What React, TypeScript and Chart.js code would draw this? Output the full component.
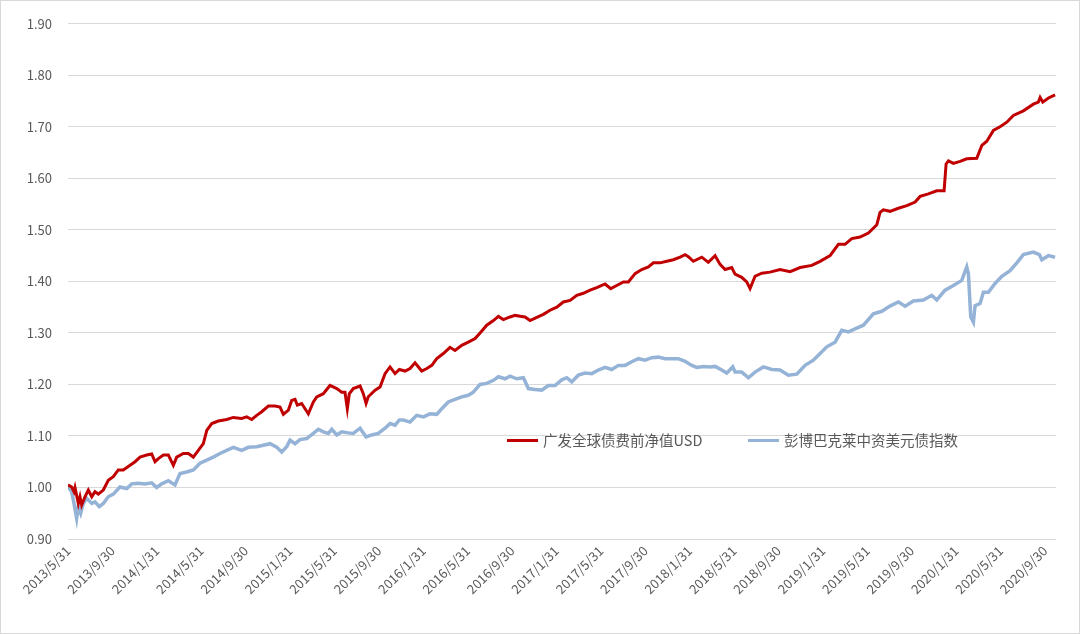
import React, { useEffect, useRef } from "react";
import { Chart, registerables } from "chart.js";

Chart.register(...registerables);

// x values: months elapsed since 2013/5/31
const xTickLabels = [
  "2013/5/31", "2013/9/30", "2014/1/31", "2014/5/31", "2014/9/30", "2015/1/31",
  "2015/5/31", "2015/9/30", "2016/1/31", "2016/5/31", "2016/9/30", "2017/1/31",
  "2017/5/31", "2017/9/30", "2018/1/31", "2018/5/31", "2018/9/30", "2019/1/31",
  "2019/5/31", "2019/9/30", "2020/1/31", "2020/5/31", "2020/9/30",
];

const seriesNames = ["广发全球债费前净值USD", "彭博巴克莱中资美元债指数"];

const fundMonths = [
  0.0, 0.33, 0.54, 0.63, 0.93, 1.08, 1.23, 1.53, 1.83, 2.14, 2.43, 2.73, 3.18, 3.63, 4.08, 4.53, 4.98,
  5.59, 6.04, 6.49, 7.09, 7.54, 7.84, 8.14, 8.59, 9.04, 9.49, 9.79, 10.39, 10.84, 11.29, 11.74, 12.19,
  12.5, 12.95, 13.54, 14.3, 14.89, 15.65, 16.1, 16.55, 17.0, 17.45, 18.05, 18.65, 19.1, 19.4, 19.85,
  20.15, 20.45, 20.66, 21.05, 21.65, 22.1, 22.41, 23.0, 23.6, 24.21, 24.66, 24.95, 25.16, 25.34, 25.7,
  26.31, 26.6, 26.85, 27.05, 27.66, 28.11, 28.56, 29.01, 29.46, 29.85, 30.36, 30.81, 31.26, 31.86,
  32.32, 32.77, 33.22, 33.81, 34.41, 34.86, 35.47, 36.06, 36.67, 37.12, 37.72, 38.32, 38.77, 39.22,
  39.82, 40.27, 40.87, 41.17, 41.62, 42.23, 42.82, 43.42, 44.03, 44.62, 45.23, 45.83, 46.42, 47.03,
  47.63, 48.38, 48.89, 49.43, 50.03, 50.48, 51.08, 51.68, 52.28, 52.73, 53.33, 53.94, 54.53, 55.14,
  55.59, 55.88, 56.33, 57.09, 57.68, 58.29, 58.74, 59.19, 59.79, 60.09, 60.69, 61.14, 61.44, 61.89,
  62.5, 63.24, 64.14, 65.05, 65.95, 67.0, 67.75, 68.65, 69.4, 70.0, 70.6, 71.35, 72.1, 72.86, 73.15,
  73.45, 74.05, 74.8, 75.56, 76.31, 76.76, 77.5, 78.26, 78.92, 79.1, 79.31, 79.76, 80.36, 80.96, 81.86,
  82.32, 82.77, 83.36, 83.96, 84.57, 85.16, 86.06, 86.96, 87.41, 87.57, 87.81, 88.32, 88.92,
];
const fundValues = [
  1.005, 1.001, 0.992, 1.0, 0.969, 0.982, 0.966, 0.982, 0.995, 0.982, 0.992, 0.987, 0.995, 1.014, 1.021,
  1.034, 1.034, 1.043, 1.05, 1.059, 1.063, 1.065, 1.05, 1.056, 1.063, 1.063, 1.043, 1.059, 1.066, 1.066,
  1.059, 1.072, 1.085, 1.111, 1.124, 1.129, 1.132, 1.136, 1.134, 1.137, 1.132, 1.14, 1.147, 1.158, 1.158,
  1.156, 1.142, 1.15, 1.169, 1.171, 1.16, 1.163, 1.143, 1.166, 1.176, 1.182, 1.198, 1.192, 1.185, 1.185,
  1.153, 1.182, 1.192, 1.197, 1.182, 1.163, 1.176, 1.189, 1.195, 1.221, 1.234, 1.221, 1.229, 1.226, 1.231,
  1.242, 1.226, 1.231, 1.237, 1.25, 1.26, 1.272, 1.266, 1.276, 1.282, 1.289, 1.3, 1.315, 1.324, 1.332,
  1.326, 1.331, 1.334, 1.332, 1.331, 1.324, 1.33, 1.336, 1.344, 1.35, 1.36, 1.363, 1.373, 1.377, 1.383,
  1.388, 1.395, 1.386, 1.392, 1.399, 1.399, 1.415, 1.423, 1.428, 1.436, 1.436, 1.439, 1.442, 1.447,
  1.452, 1.448, 1.439, 1.447, 1.437, 1.45, 1.433, 1.423, 1.427, 1.414, 1.408, 1.399, 1.386, 1.41, 1.416,
  1.418, 1.423, 1.419, 1.427, 1.431, 1.439, 1.45, 1.472, 1.472, 1.483, 1.486, 1.494, 1.51, 1.534, 1.539,
  1.536, 1.542, 1.547, 1.554, 1.565, 1.57, 1.576, 1.576, 1.628, 1.634, 1.629, 1.633, 1.638, 1.639, 1.664,
  1.672, 1.693, 1.7, 1.709, 1.722, 1.731, 1.744, 1.748, 1.757, 1.748, 1.756, 1.762,
];

const indexMonths = [
  0.0, 0.33, 0.54, 0.78, 0.93, 1.14, 1.38, 1.68, 2.14, 2.43, 2.82, 3.18, 3.63, 4.08, 4.68, 5.29, 5.74,
  6.33, 6.94, 7.54, 7.99, 8.44, 9.04, 9.64, 10.09, 10.69, 11.29, 11.89, 12.5, 13.09, 13.69, 14.3, 14.89,
  15.65, 16.24, 17.0, 17.59, 18.2, 18.8, 19.25, 19.7, 20.0, 20.45, 20.9, 21.5, 22.1, 22.55, 23.0, 23.45,
  23.76, 24.21, 24.66, 25.25, 25.7, 26.31, 26.85, 27.36, 27.95, 28.56, 29.01, 29.46, 29.85, 30.21, 30.81,
  31.41, 32.01, 32.61, 33.22, 33.67, 34.26, 34.86, 35.47, 36.06, 36.51, 37.12, 37.72, 38.32, 38.77, 39.37,
  39.82, 40.42, 41.02, 41.47, 42.07, 42.68, 43.27, 43.87, 44.48, 44.93, 45.38, 45.97, 46.58, 47.18, 47.77,
  48.38, 48.98, 49.58, 50.18, 50.78, 51.38, 51.98, 52.59, 53.18, 53.78, 54.39, 54.98, 55.59, 56.19, 56.64,
  57.23, 57.84, 58.29, 58.89, 59.34, 59.88, 60.09, 60.69, 61.29, 61.89, 62.64, 63.4, 64.14, 64.89, 65.65,
  66.4, 67.14, 67.75, 68.35, 69.1, 69.7, 70.3, 70.9, 71.65, 72.55, 73.31, 74.05, 74.8, 75.41, 76.15, 77.05,
  77.81, 78.26, 79.01, 79.76, 80.51, 80.96, 81.11, 81.32, 81.56, 81.71, 82.16, 82.46, 82.91, 83.51, 84.12,
  84.86, 85.47, 86.06, 86.96, 87.5, 87.72, 88.32, 88.92,
];
const indexValues = [
  1.001, 0.992, 0.969, 0.94, 0.963, 0.95, 0.969, 0.979, 0.969, 0.972, 0.963, 0.969, 0.982, 0.987, 1.001,
  0.998, 1.007, 1.008, 1.007, 1.009, 1.0, 1.007, 1.013, 1.005, 1.027, 1.03, 1.034, 1.047, 1.053, 1.059,
  1.066, 1.072, 1.078, 1.072, 1.078, 1.079, 1.082, 1.085, 1.078, 1.069, 1.079, 1.092, 1.085, 1.093, 1.095,
  1.105, 1.113, 1.108, 1.105, 1.113, 1.102, 1.108, 1.106, 1.105, 1.115, 1.098, 1.102, 1.105, 1.115, 1.124,
  1.121, 1.131, 1.131, 1.127, 1.14, 1.137, 1.143, 1.142, 1.153, 1.166, 1.171, 1.176, 1.179, 1.185, 1.2,
  1.202, 1.208, 1.215, 1.211, 1.216, 1.211, 1.213, 1.192, 1.19, 1.189, 1.198, 1.198, 1.209, 1.213, 1.205,
  1.218, 1.222, 1.221, 1.228, 1.233, 1.229, 1.237, 1.237, 1.244, 1.25, 1.247, 1.252, 1.253, 1.25, 1.25,
  1.25, 1.245, 1.237, 1.233, 1.235, 1.234, 1.235, 1.228, 1.222, 1.234, 1.224, 1.224, 1.213, 1.224, 1.234,
  1.229, 1.228, 1.218, 1.22, 1.237, 1.247, 1.26, 1.273, 1.282, 1.305, 1.302, 1.308, 1.315, 1.337, 1.342,
  1.352, 1.36, 1.352, 1.362, 1.364, 1.373, 1.364, 1.383, 1.392, 1.402, 1.428, 1.415, 1.331, 1.321, 1.353,
  1.357, 1.379, 1.379, 1.396, 1.41, 1.421, 1.436, 1.452, 1.457, 1.452, 1.442, 1.45, 1.447,
];

const yMin = 0.9;
const yMax = 1.9;
const yStep = 0.1;
const xMax = 89;
const xStep = 4;

const RED = "#C00000";
const BLUE = "#95B3D7";
const TEXT = "#595959";
const FONT = "'Noto Sans CJK SC', 'Noto Sans', sans-serif";

export default function App() {
  const ref = useRef<HTMLCanvasElement | null>(null);

  useEffect(() => {
    if (!ref.current) return;
    Chart.defaults.font.family = FONT;
    const chart = new Chart(ref.current, {
      type: "line",
      data: {
        datasets: [
          {
            label: seriesNames[0],
            data: fundMonths.map((m, i) => ({ x: m, y: fundValues[i] })),
            borderColor: RED,
            backgroundColor: RED,
            borderWidth: 3,
            pointRadius: 0,
            tension: 0,
          },
          {
            label: seriesNames[1],
            data: indexMonths.map((m, i) => ({ x: m, y: indexValues[i] })),
            borderColor: BLUE,
            backgroundColor: BLUE,
            borderWidth: 3.5,
            pointRadius: 0,
            tension: 0,
          },
        ],
      },
      options: {
        responsive: false,
        animation: false,
        layout: { padding: { left: 0, right: 24, top: 23, bottom: 0 } },
        plugins: { legend: { display: false }, tooltip: { enabled: false } },
        scales: {
          x: {
            type: "linear",
            min: 0,
            max: xMax,
            grid: { display: false, drawTicks: false },
            border: { display: false },
            afterFit: (s: any) => {
              s.height = 95;
            },
            ticks: {
              stepSize: xStep,
              includeBounds: false,
              autoSkip: false,
              maxRotation: 45,
              minRotation: 45,
              padding: 4,
              color: TEXT,
              font: { size: 13, family: FONT },
              callback: (v: any) => {
                const idx = Math.round(Number(v) / xStep);
                return Number(v) % xStep === 0 ? xTickLabels[idx] ?? "" : "";
              },
            },
          },
          y: {
            min: yMin,
            max: yMax,
            grid: { color: "#D9D9D9", lineWidth: 1, drawTicks: false },
            border: { display: false },
            afterFit: (s: any) => {
              s.width = 68;
            },
            ticks: {
              stepSize: yStep,
              padding: 16,
              color: TEXT,
              font: { size: 13, family: FONT },
              callback: (v: any) => Number(v).toFixed(2),
            },
          },
        },
      },
    });
    return () => chart.destroy();
  }, []);

  const legendText: React.CSSProperties = {
    fontFamily: FONT,
    fontSize: "14.5px",
    color: TEXT,
    whiteSpace: "nowrap",
    lineHeight: "20px",
  };

  return (
    <div style={{ position: "fixed", left: 0, top: 0, width: 1080, height: 634, background: "#fff" }}>
      <canvas ref={ref} width={1080} height={634} style={{ position: "absolute", left: 0, top: 0 }} />
      <div style={{ position: "absolute", left: 507, top: 430, display: "flex", alignItems: "center" }}>
        <span style={{ display: "inline-block", width: 31, height: 3, background: RED, marginRight: 5 }} />
        <span style={legendText}>{seriesNames[0]}</span>
      </div>
      <div style={{ position: "absolute", left: 748, top: 430, display: "flex", alignItems: "center" }}>
        <span style={{ display: "inline-block", width: 31, height: 3, background: BLUE, marginRight: 5 }} />
        <span style={legendText}>{seriesNames[1]}</span>
      </div>
      <div
        style={{
          position: "absolute",
          left: 0,
          top: 0,
          width: 1080,
          height: 634,
          boxSizing: "border-box",
          border: "1px solid #D9D9D9",
          pointerEvents: "none",
        }}
      />
    </div>
  );
}
